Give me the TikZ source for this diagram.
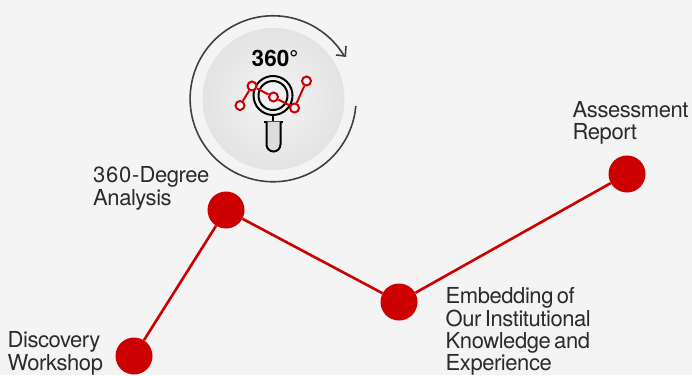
\documentclass[tikz,border=0pt]{standalone}
\usepackage{fontspec}
\setmainfont{TeX Gyre Heros}
\newfontfamily\lblfont[LetterSpace=-2,WordSpace=0.6]{TeX Gyre Heros}
\newfontfamily\lblwide[LetterSpace=3.5]{TeX Gyre Heros}
\definecolor{bgc}{HTML}{F4F4F4}
\definecolor{redc}{HTML}{CC0000}
\definecolor{ringc}{HTML}{404040}
\definecolor{txtc}{HTML}{2B2B2B}
\tikzset{
  stepdot/.style={circle,fill=redc,draw=none,minimum size=37pt,inner sep=0pt},
  link/.style={draw=redc,line width=2.6pt},
  lbl/.style={anchor=north west,inner sep=0pt,text=txtc,align=left,font=\lblfont\fontsize{22}{22.7}\selectfont},
  lbltight/.style={lbl,font=\lblfont\fontsize{22}{22.2}\selectfont},
  chartline/.style={draw=redc,line width=2pt},
  chartdot/.style={circle,draw=redc,fill=bgc,line width=2pt,minimum size=9pt,inner sep=0pt},
  glass/.style={draw=black,line width=2pt}
}
\begin{document}
\begin{tikzpicture}[x=1pt,y=-1pt]
\useasboundingbox (0,0) rectangle (692,375);
\fill[bgc] (0,0) rectangle (692,375);
% links and dots
\node[stepdot] (a) at (134,356) {};
\node[stepdot] (b) at (226,210) {};
\node[stepdot] (c) at (399,302) {};
\node[stepdot] (d) at (627,174) {};
\draw[link] (a) -- (b);
\draw[link] (b) -- (c);
\draw[link] (c) -- (d);
% labels
\node[lbl] (la) at (7.5,331.5) {Discovery\\Workshop};
\node[lbl] (lb) at (93,166.5) {{\lblwide 360-}Degree\\Analysis};
\node[lbltight] (lc) at (445.5,287.5) {Embedding of\\Our Institutional\\Knowledge and\\Experience};
\node[lbl] (ld) at (572.5,101) {Assessment\\Report};
% badge
\shade[inner color=bgc,outer color=black!11] (273.5,99) circle[radius=71];
\draw[ringc,line width=1.6pt] (355.8,106) arc[start angle=5,end angle=329.3,radius=83];
\draw[ringc,line width=1.6pt] (336,55) -- (345.3,56) -- (346,46);
\node[font=\bfseries\fontsize{22.5}{24}\selectfont,text=black,inner sep=0pt] (t) at (275,58) {360°};
% magnifier
\draw[glass] (273,95.5) circle[radius=19.5];
\draw[glass] (273,95.5) circle[radius=14.5];
\draw[glass] (273,115) -- (273,121);
\draw[glass] (264,121.5) -- (283,121.5);
\draw[glass,fill=bgc!90!black] (266.5,121.5) -- (266.5,144.5) arc[start angle=180,end angle=0,radius=7] -- (280.5,121.5);
% chart
\node[chartdot] (p1) at (240,105.5) {};
\node[chartdot] (p2) at (252,86) {};
\node[chartdot] (p3) at (273.5,97) {};
\node[chartdot] (p4) at (294.5,108) {};
\node[chartdot] (p5) at (306.5,81) {};
\draw[chartline] (p1) -- (p2);
\draw[chartline] (p2) -- (p3);
\draw[chartline] (p3) -- (p4);
\draw[chartline] (p4) -- (p5);
\end{tikzpicture}
\end{document}
